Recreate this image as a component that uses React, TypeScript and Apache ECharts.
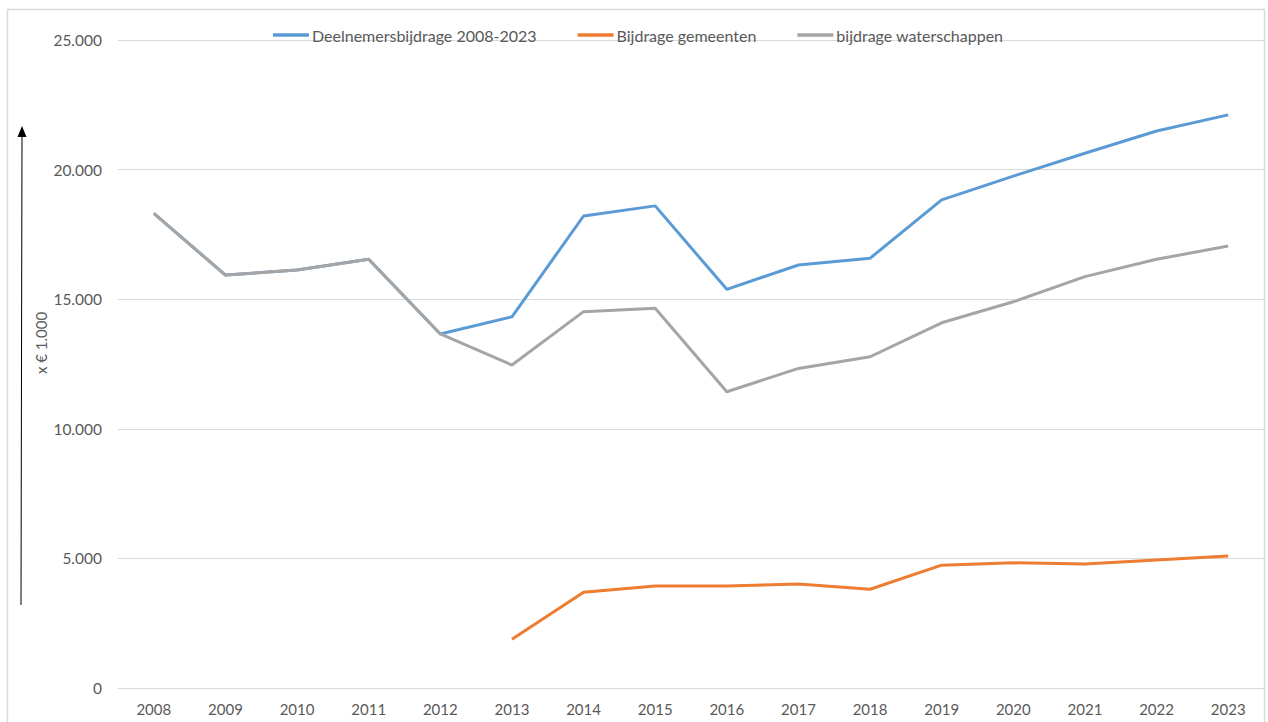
import React, { useEffect, useRef } from "react";
import * as echarts from "echarts";

const years = ["2008","2009","2010","2011","2012","2013","2014","2015","2016","2017","2018","2019","2020","2021","2022","2023"];
const deelnemers = [18310, 15930, 16130, 16540, 13660, 14320, 18210, 18600, 15380, 16320, 16580, 18830, 19750, 20630, 21490, 22110];
const gemeenten: (number | null)[] = [null, null, null, null, null, 1880, 3690, 3935, 3935, 4010, 3810, 4740, 4830, 4785, 4940, 5090];
const waterschappen = [18310, 15930, 16130, 16540, 13660, 12460, 14520, 14650, 11430, 12330, 12780, 14090, 14900, 15870, 16540, 17050];
const seriesNames = ["Deelnemersbijdrage 2008-2023", "Bijdrage gemeenten", "bijdrage waterschappen"];
const colors = ["#5B9BD5", "#ED7D31", "#A5A5A5"];
const yTicks = { min: 0, max: 25000, interval: 5000 };

const FONT = "Lato";

export default function App() {
  const ref = useRef<HTMLDivElement>(null);
  useEffect(() => {
    document.body.style.margin = "0";
    const chart = echarts.init(ref.current!, null, { renderer: "svg" });
    const fmt = (v: number) => String(v).replace(/\B(?=(\d{3})+(?!\d))/g, ".");
    chart.setOption({
      animation: false,
      textStyle: { fontFamily: FONT },
      grid: { left: 118, right: 4, top: 40, bottom: 34, containLabel: false },
      legend: {
        top: 22,
        left: 268,
        icon: "rect",
        itemWidth: 36,
        itemHeight: 3.5,
        itemGap: 41,
        textStyle: { color: "#595959", fontSize: 16, fontFamily: FONT, padding: [0, 0, 0, -2] },
        data: seriesNames,
      },
      xAxis: {
        type: "category",
        data: years,
        boundaryGap: true,
        axisLine: { lineStyle: { color: "#d9d9d9" } },
        axisTick: { show: false },
        axisLabel: { color: "#595959", fontSize: 15, margin: 13 },
      },
      yAxis: {
        type: "value",
        min: yTicks.min,
        max: yTicks.max,
        interval: yTicks.interval,
        axisLine: { show: false },
        axisTick: { show: false },
        splitLine: { lineStyle: { color: "#d9d9d9" } },
        axisLabel: { color: "#595959", fontSize: 15.5, margin: 16, formatter: fmt },
      },
      series: [
        { name: seriesNames[0], type: "line", data: deelnemers, symbol: "none", lineStyle: { width: 3, color: colors[0] }, itemStyle: { color: colors[0] } },
        { name: seriesNames[1], type: "line", data: gemeenten, symbol: "none", lineStyle: { width: 3, color: colors[1] }, itemStyle: { color: colors[1] } },
        { name: seriesNames[2], type: "line", data: waterschappen, symbol: "none", lineStyle: { width: 3, color: colors[2] }, itemStyle: { color: colors[2] } },
      ],
      graphic: [
        { type: "rect", shape: { x: 7.5, y: 9.5, width: 1257, height: 730 }, style: { fill: "none", stroke: "#d9d9d9", lineWidth: 1.5 }, silent: true },
        { type: "line", shape: { x1: 21, y1: 605, x2: 22, y2: 134 }, style: { stroke: "#000", lineWidth: 1 } },
        { type: "polygon", shape: { points: [[17.5, 137], [26.5, 137], [22, 126]] }, style: { fill: "#000" } },
        {
          type: "text",
          x: 41,
          y: 343,
          rotation: Math.PI / 2,
          style: { text: "x € 1.000", fill: "#595959", fontSize: 15, fontFamily: FONT, align: "center", verticalAlign: "middle" },
        },
      ],
    });
    return () => chart.dispose();
  }, []);
  return <div ref={ref} style={{ width: 1268, height: 722 }} />;
}
